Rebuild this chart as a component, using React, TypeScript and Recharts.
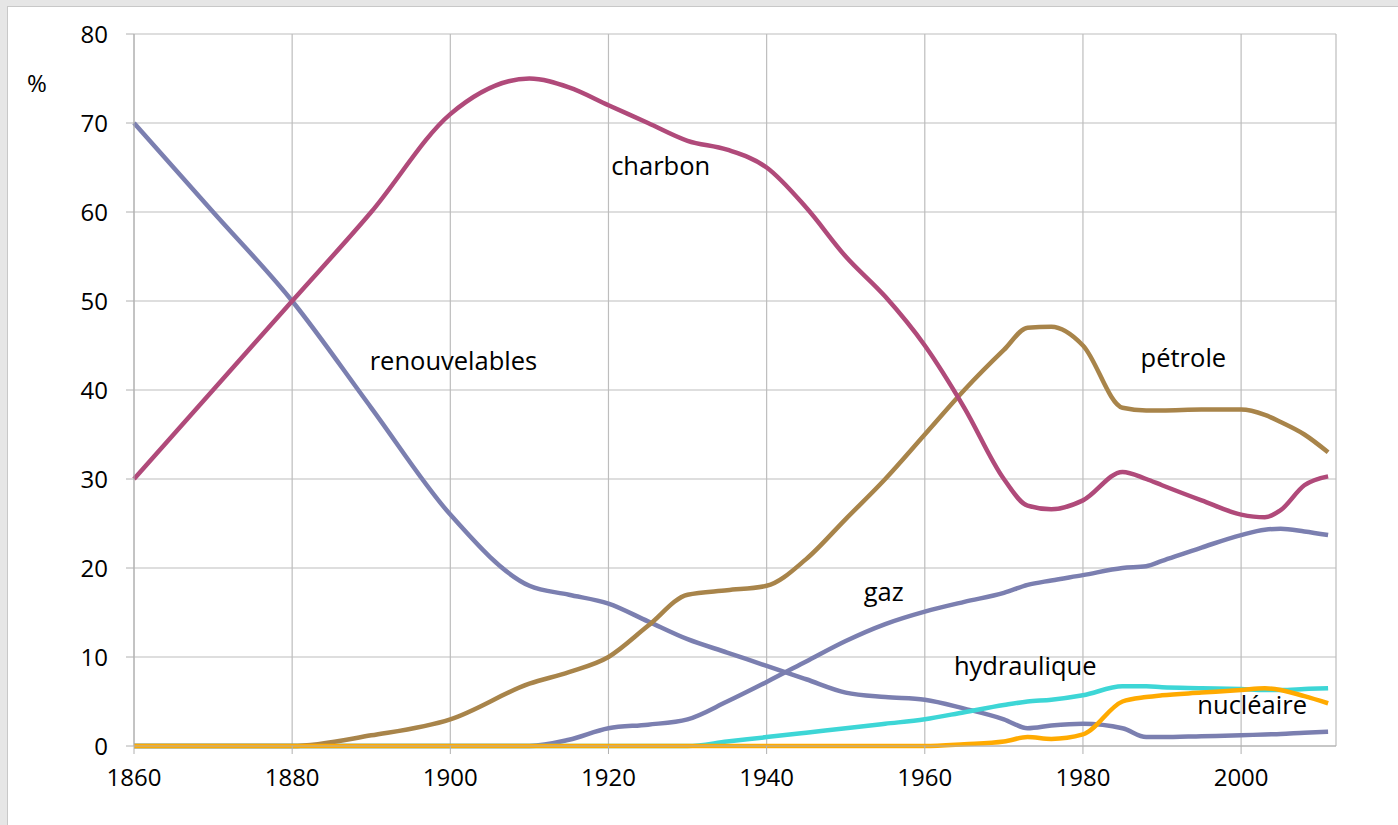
import React from "react";
import {
  LineChart,
  Line,
  XAxis,
  YAxis,
  CartesianGrid,
  ReferenceDot,
} from "recharts";

const years = [
  1860, 1870, 1880, 1890, 1900, 1910, 1915, 1920, 1925, 1930, 1935, 1940, 1945,
  1950, 1955, 1960, 1965, 1970, 1973, 1976, 1980, 1985, 1988, 1990, 1995, 2000,
  2003, 2005, 2008, 2011,
];

const renouvelables = [
  70, 60, 50, 38, 26, 18, 17, 16, 14, 12, 10.5, 9, 7.5, 6, 5.5, 5.2, 4.2, 3, 2,
  2.3, 2.5, 2, 1, 1, 1.1, 1.2, 1.3, 1.35, 1.5, 1.6,
];
const charbon = [
  30, 40, 50, 60, 71, 75, 74, 72, 70, 68, 67, 65, 60.5, 55, 50.5, 45, 38, 30,
  27, 26.6, 27.6, 30.8, 30, 29.3, 27.6, 26, 25.7, 26.5, 29.3, 30.3,
];
const petrole = [
  0, 0, 0, 1.2, 3, 7, 8.3, 10, 13.5, 17, 17.5, 18, 21, 25.5, 30, 35, 40, 44.5,
  47, 47.1, 45, 38, 37.7, 37.7, 37.8, 37.8, 37.2, 36.4, 35, 33,
];
const gaz = [
  0, 0, 0, 0, 0, 0, 0.7, 2, 2.4, 3, 5, 7.2, 9.5, 11.8, 13.7, 15.1, 16.2, 17.2,
  18.1, 18.6, 19.2, 20, 20.2, 20.8, 22.3, 23.7, 24.3, 24.4, 24.1, 23.7,
];
const hydraulique = [
  0, 0, 0, 0, 0, 0, 0, 0, 0, 0, 0.5, 1, 1.5, 2, 2.5, 3, 3.8, 4.6, 5, 5.2, 5.7,
  6.7, 6.7, 6.6, 6.5, 6.4, 6.3, 6.3, 6.4, 6.5,
];
const nucleaire = [
  0, 0, 0, 0, 0, 0, 0, 0, 0, 0, 0, 0, 0, 0, 0, 0, 0.2, 0.5, 1, 0.8, 1.3, 5, 5.5,
  5.7, 6, 6.3, 6.5, 6.3, 5.6, 4.8,
];

const xTicks = [1860, 1880, 1900, 1920, 1940, 1960, 1980, 2000];
const yTicks = [0, 10, 20, 30, 40, 50, 60, 70, 80];

// series labels written on the plot, in data coordinates
const labels = [
  { text: "charbon", x: 1926.6, y: 65.2 },
  { text: "renouvelables", x: 1900.4, y: 43.3 },
  { text: "pétrole", x: 1992.7, y: 43.6 },
  { text: "gaz", x: 1954.8, y: 17.3 },
  { text: "hydraulique", x: 1972.7, y: 9 },
  { text: "nucléaire", x: 2001.4, y: 4.6 },
];

const data = years.map((year, i) => ({
  year,
  renouvelables: renouvelables[i],
  charbon: charbon[i],
  petrole: petrole[i],
  gaz: gaz[i],
  hydraulique: hydraulique[i],
  nucleaire: nucleaire[i],
}));

const series = [
  { key: "renouvelables", color: "#7b7fb0" },
  { key: "gaz", color: "#7b7fb0" },
  { key: "hydraulique", color: "#3dd6d6" },
  { key: "petrole", color: "#a8844a" },
  { key: "charbon", color: "#b04a7a" },
  { key: "nucleaire", color: "#ffaa00" },
];

const font = "'Open Sans', sans-serif";

export default function App() {
  return (
    <div
      style={{
        position: "absolute",
        left: 0,
        top: 0,
        width: 1398,
        height: 825,
        background: "#e6e6e6",
        fontFamily: font,
        overflow: "hidden",
      }}
    >
      <div
        style={{
          position: "absolute",
          left: 7,
          top: 6,
          width: 1398,
          height: 825,
          background: "#fff",
          border: "1px solid #c8c8c8",
        }}
      />
      <span
        style={{
          position: "absolute",
          left: 27,
          top: 66,
          fontSize: 24,
          color: "#000",
        }}
      >
        %
      </span>
      <div style={{ position: "absolute", left: 0, top: 0 }}>
        <LineChart
          width={1398}
          height={825}
          data={data}
          margin={{ top: 34, right: 62, bottom: 39, left: 74 }}
        >
          <CartesianGrid stroke="#bdbdbd" strokeWidth={1.2} />
          <XAxis
            dataKey="year"
            type="number"
            domain={[1860, 2012]}
            ticks={xTicks}
            height={40}
            stroke="#b0b0b0"
            tickSize={8}
            tickMargin={15}
            tick={{ fill: "#000", fontSize: 24, fontFamily: font }}
            interval={0}
          />
          <YAxis
            type="number"
            domain={[0, 80]}
            ticks={yTicks}
            width={60}
            stroke="#b0b0b0"
            tickSize={8}
            tickMargin={18}
            tick={{ fill: "#000", fontSize: 24, fontFamily: font }}
            interval={0}
          />
          {series.map((s) => (
            <Line
              key={s.key}
              dataKey={s.key}
              type="monotone"
              stroke={s.color}
              strokeWidth={4.5}
              dot={false}
              activeDot={false}
              isAnimationActive={false}
            />
          ))}
          {labels.map((l) => (
            <ReferenceDot
              key={l.text}
              x={l.x}
              y={l.y}
              r={0}
              fill="none"
              stroke="none"
              ifOverflow="visible"
              label={{
                value: l.text,
                position: "center",
                fontSize: 25.5,
                fill: "#000",
                fontFamily: font,
              }}
            />
          ))}
        </LineChart>
      </div>
    </div>
  );
}
